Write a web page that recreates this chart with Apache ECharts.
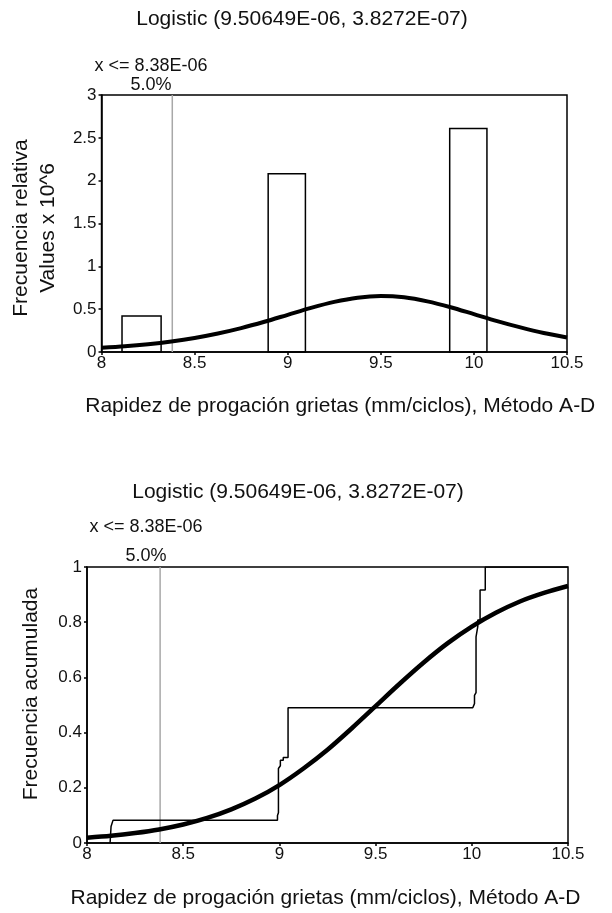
<!DOCTYPE html>
<html>
<head>
<meta charset="utf-8">
<script src="https://cdn.jsdelivr.net/npm/echarts/dist/echarts.min.js"></script>
<style>html,body{margin:0;padding:0;background:#fff}#c{width:612px;height:913px}</style>
</head>
<body>
<div id="c"></div>
<script>
// ---- data ----
const titleText = 'Logistic (9.50649E-06, 3.8272E-07)';
const pctLabel = 'x <= 8.38E-06';
const pctValue = '5.0%';
const pctX = 8.38;

const xTickMin = 8, xTickMax = 10.5, xTickStep = 0.5;

// histogram bins (x in 1e-6 units) and relative frequency heights
const binLeft = [8.11, 8.895, 9.87];
const binRight = [8.32, 9.095, 10.07];
const binHeight = [0.42, 2.08, 2.61];

// fitted logistic density curve (values x 10^6)
const curveX = [8, 8.125, 8.25, 8.375, 8.5, 8.625, 8.75, 8.875, 9, 9.125, 9.25, 9.375, 9.5, 9.625, 9.75, 9.875, 10, 10.125, 10.25, 10.375, 10.5];
const densY = [0.05, 0.067, 0.091, 0.123, 0.164, 0.216, 0.279, 0.353, 0.434, 0.515, 0.585, 0.634, 0.653, 0.638, 0.591, 0.523, 0.442, 0.361, 0.287, 0.222, 0.17];
// fitted logistic cumulative curve
const cdfY = [0.019, 0.026, 0.036, 0.049, 0.067, 0.091, 0.122, 0.161, 0.21, 0.27, 0.338, 0.415, 0.496, 0.577, 0.654, 0.724, 0.784, 0.834, 0.875, 0.906, 0.931];

// empirical cumulative frequency (step outline vertices)
const ecdfX = [8.12, 8.125, 8.135, 8.99, 8.99, 8.995, 8.995, 9.005, 9.005, 9.02, 9.02, 9.045, 9.045, 10.005, 10.014, 10.014, 10.022, 10.022, 10.031, 10.031, 10.043, 10.043, 10.07, 10.07, 10.5];
const ecdfY = [0, 0.06, 0.082, 0.082, 0.10, 0.11, 0.27, 0.28, 0.30, 0.30, 0.31, 0.31, 0.49, 0.49, 0.505, 0.535, 0.545, 0.747, 0.784, 0.808, 0.808, 0.917, 0.917, 1.0, 1.0];

const xName = 'Rapidez de progación grietas (mm/ciclos), Método A-D';
const yNameTop = 'Frecuencia relativa\nValues x 10^6';
const yNameBottom = 'Frecuencia acumulada';

// ---- chart ----
const FF = "'Liberation Sans', Arial, sans-serif";
const chart = echarts.init(document.getElementById('c'), null, {renderer: 'canvas'});

function xAxisCfg(idx, gap, pad) {
  return {
    type: 'value', gridIndex: idx, min: xTickMin, max: xTickMax, interval: xTickStep,
    name: xName, nameLocation: 'middle', nameGap: gap,
    nameTextStyle: {fontFamily: FF, fontSize: 21, color: '#111', lineHeight: 21, padding: pad},
    axisLine: {show: true, onZero: false, lineStyle: {color: '#000', width: 1.5}},
    axisTick: {show: true, length: 3, lineStyle: {color: '#000', width: 1.5}},
    axisLabel: {fontFamily: FF, fontSize: 17, color: '#111', margin: 3},
    splitLine: {show: false}
  };
}
function yAxisCfg(idx, max, step, name, gap, fs, lh, pad) {
  return {
    type: 'value', gridIndex: idx, min: 0, max: max, interval: step,
    name: name, nameLocation: 'middle', nameGap: gap, nameRotate: 90,
    nameTextStyle: {fontFamily: FF, fontSize: fs, color: '#111', lineHeight: lh, padding: pad},
    axisLine: {show: true, onZero: false, lineStyle: {color: '#000', width: 1.5}},
    axisTick: {show: true, length: 3, lineStyle: {color: '#000', width: 1.5}},
    axisLabel: {fontFamily: FF, fontSize: 17, color: '#111', margin: 5},
    splitLine: {show: false}
  };
}

const gray = '#a8a8a8';

const option = {
  animation: false,
  backgroundColor: '#fff',
  grid: [
    {left: 91, right: 45, top: 95, height: 257, show: true, borderColor: '#000', borderWidth: 1.5, backgroundColor: 'transparent'},
    {left: 87, right: 44, top: 567, height: 276, show: true, borderColor: '#000', borderWidth: 1.5, backgroundColor: 'transparent'}
  ],
  xAxis: [xAxisCfg(0, 44, [0, 0, 0, 12]), xAxisCfg(1, 45, [0, 4, 0, 0])],
  yAxis: [
    yAxisCfg(0, 3, 0.5, yNameTop, 34, 21, 27, [0, 9, 0, 0]),
    yAxisCfg(1, 1, 0.2, yNameBottom, 45, 21, 21, [0, 0, 0, 22])
  ],
  graphic: [
    {type: 'text', x: 302, y: 19, style: {text: titleText, font: '21px ' + FF, fill: '#111', textAlign: 'center', textVerticalAlign: 'middle'}},
    {type: 'text', x: 151, y: 66, style: {text: pctLabel, font: '18px ' + FF, fill: '#111', textAlign: 'center', textVerticalAlign: 'middle'}},
    {type: 'text', x: 151, y: 85, style: {text: pctValue, font: '18px ' + FF, fill: '#111', textAlign: 'center', textVerticalAlign: 'middle'}},
    {type: 'text', x: 298, y: 492, style: {text: titleText, font: '21px ' + FF, fill: '#111', textAlign: 'center', textVerticalAlign: 'middle'}},
    {type: 'text', x: 146, y: 527, style: {text: pctLabel, font: '18px ' + FF, fill: '#111', textAlign: 'center', textVerticalAlign: 'middle'}},
    {type: 'text', x: 146, y: 556, style: {text: pctValue, font: '18px ' + FF, fill: '#111', textAlign: 'center', textVerticalAlign: 'middle'}}
  ],
  series: [
    {
      type: 'custom', xAxisIndex: 0, yAxisIndex: 0, z: 2,
      data: binLeft.map((l, i) => [l, binRight[i], binHeight[i]]),
      encode: {x: [0, 1], y: 2},
      renderItem: function (params, api) {
        const p0 = api.coord([api.value(0), 0]);
        const p1 = api.coord([api.value(1), api.value(2)]);
        return {
          type: 'rect',
          shape: {x: p0[0], y: p1[1], width: p1[0] - p0[0], height: p0[1] - p1[1]},
          style: {fill: 'rgba(0,0,0,0)', stroke: '#000', lineWidth: 1.5}
        };
      }
    },
    {
      type: 'line', xAxisIndex: 0, yAxisIndex: 0, z: 1, silent: true,
      data: [[pctX, 0], [pctX, 3]], showSymbol: false,
      lineStyle: {color: gray, width: 1.5}
    },
    {
      type: 'line', xAxisIndex: 0, yAxisIndex: 0, z: 4,
      data: curveX.map((x, i) => [x, densY[i]]),
      showSymbol: false, smooth: 0.3,
      lineStyle: {color: '#000', width: 4}
    },
    {
      type: 'line', xAxisIndex: 1, yAxisIndex: 1, z: 1, silent: true,
      data: [[pctX, 0], [pctX, 1]], showSymbol: false,
      lineStyle: {color: gray, width: 1.5}
    },
    {
      type: 'line', xAxisIndex: 1, yAxisIndex: 1, z: 2,
      data: ecdfX.map((x, i) => [x, ecdfY[i]]),
      showSymbol: false,
      lineStyle: {color: '#000', width: 1.5}
    },
    {
      type: 'line', xAxisIndex: 1, yAxisIndex: 1, z: 4,
      data: curveX.map((x, i) => [x, cdfY[i]]),
      showSymbol: false, smooth: 0.3,
      lineStyle: {color: '#000', width: 4.5}
    }
  ]
};
chart.setOption(option);
</script>
</body>
</html>
